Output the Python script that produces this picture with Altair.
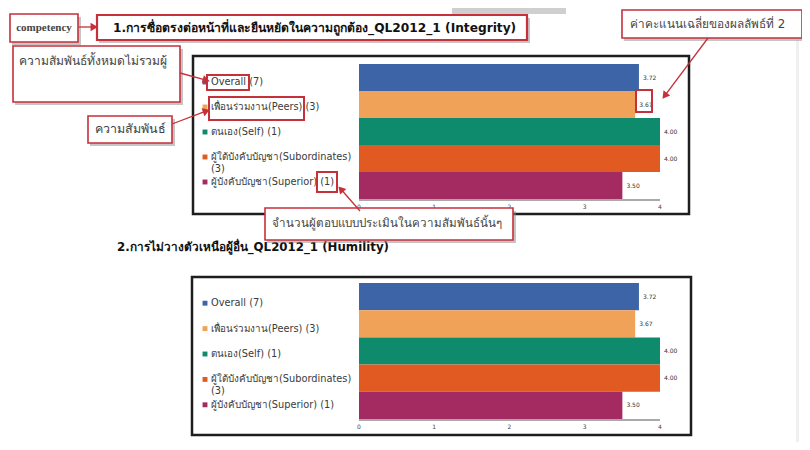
import math
import altair as alt
import pandas as pd

# ---------------- data ----------------
categories = ["Overall", "เพื่อนร่วมงาน(Peers)", "ตนเอง(Self)",
              "ผู้ใต้บังคับบัญชา(Subordinates)", "ผู้บังคับบัญชา(Superior)"]
counts = [7, 3, 1, 3, 1]
integrity_scores = [3.72, 3.67, 4.00, 4.00, 3.50]
humility_scores = [3.72, 3.67, 4.00, 4.00, 3.50]
axis_ticks = [0, 1, 2, 3, 4]
bar_colors = ["#3d64a6", "#f0a258", "#0e8a6c", "#e05a22", "#a42b62"]

title1 = "1.การซื่อตรงต่อหน้าที่และยืนหยัดในความถูกต้อง_QL2012_1 (Integrity)"
title2 = "2.การไม่วางตัวเหนือผู้อื่น_QL2012_1 (Humility)"
note_competency = "competency"
note_all = "ความสัมพันธ์ทั้งหมดไม่รวมผู้"
note_rel = "ความสัมพันธ์"
note_count = "จำนวนผู้ตอบแบบประเมินในความสัมพันธ์นั้นๆ"
note_score = "ค่าคะแนนเฉลี่ยของผลลัพธ์ที่ 2"

# ---------------- helpers ----------------
RED = "#c5303b"
SANS = "DejaVu Sans"
DUMMY = pd.DataFrame({"k": [0]})


def P(v):
    return v - 8


def rect(x1, y1, x2, y2, fill="white", stroke=None, sw=0, opacity=1.0):
    if fill is None:
        kw = dict(fill="white", fillOpacity=0)
    else:
        kw = dict(fill=fill, opacity=opacity)
    if stroke:
        kw.update(stroke=stroke, strokeWidth=sw)
    return [alt.Chart(DUMMY).mark_rect(**kw).encode(
        x=alt.value(P(x1)), x2=alt.value(P(x2)),
        y=alt.value(P(y1)), y2=alt.value(P(y2)))]


def label(x, y, text, size=12, weight="normal", color="#3a3a3a",
          font=SANS, align="left"):
    return [alt.Chart(DUMMY).mark_text(
        text=text, fontSize=size, fontWeight=weight, color=color, font=font,
        align=align, baseline="middle").encode(
        x=alt.value(P(x)), y=alt.value(P(y)))]


def arrow(x1, y1, x2, y2, color=RED, size=70):
    dx, dy = x2 - x1, y2 - y1
    d = math.hypot(dx, dy)
    ux, uy = dx / d, dy / d
    ang = math.degrees(math.atan2(dx, -dy)) % 360
    cx, cy = x2 - ux * 4, y2 - uy * 4
    line = alt.Chart(DUMMY).mark_rule(color=color, strokeWidth=1.3).encode(
        x=alt.value(P(x1)), y=alt.value(P(y1)),
        x2=alt.value(P(cx)), y2=alt.value(P(cy)))
    head = alt.Chart(DUMMY).mark_point(
        shape="triangle", filled=True, color=color, opacity=1,
        size=size, angle=round(ang, 1)).encode(x=alt.value(P(cx)), y=alt.value(P(cy)))
    return [line, head]


def note_box(x1, y1, x2, y2, sw=1.6):
    return (rect(x1 + 2, y1 + 3, x2 + 3, y2 + 3, fill="#8c8c8c", opacity=0.5)
            + rect(x1, y1, x2, y2, fill="white", stroke=RED, sw=sw))


def panel(scores, y_top, y_bot, leg_top, leg_bot, frame):
    df = pd.DataFrame({"cat": categories, "n": counts, "score": scores})
    df["legend"] = [f"{c}\n({n})" if len(f"{c} ({n})") > 30 else f"{c} ({n})"
                    for c, n in zip(categories, counts)]
    ticks = pd.DataFrame({"t": axis_ticks})
    xs = alt.Scale(domain=[0, 4], range=[P(359), P(660)], nice=False, zero=True)
    ys = alt.Scale(domain=categories, range=[P(y_top), P(y_bot)],
                   paddingInner=0, paddingOuter=0)
    ls = alt.Scale(domain=categories, range=[P(leg_top), P(leg_bot)],
                   paddingInner=0, paddingOuter=0)
    cs = alt.Scale(domain=categories, range=bar_colors)
    x = alt.X("score:Q", scale=xs, axis=None)
    y = alt.Y("cat:N", scale=ys, axis=None, sort=categories)
    yl = alt.Y("cat:N", scale=ls, axis=None, sort=categories)
    col = alt.Color("cat:N", scale=cs, legend=None)

    fx1, fy1, fx2, fy2 = frame
    layers = rect(fx1, fy1, fx2, fy2, fill=None, stroke="#1e1e1e", sw=2.5)

    base = alt.Chart(df)
    layers.append(base.mark_bar(opacity=1).encode(x=x, y=y, color=col))
    layers.append(base.mark_text(align="left", baseline="middle", dx=4, fontSize=6,
                                 font=SANS, color="#333").encode(
        x=x, y=y, text=alt.Text("score:Q", format=".2f")))
    layers.append(alt.Chart(ticks).transform_filter("datum.t == 0").mark_rule(
        color="#555", strokeWidth=1).encode(
        x=alt.X("t:Q", scale=xs, axis=None), x2=alt.datum(4),
        y=alt.value(P(y_bot + 1))))
    layers.append(alt.Chart(ticks).mark_text(fontSize=6, font=SANS,
                                             color="#444", baseline="middle").encode(
        x=alt.X("t:Q", scale=xs, axis=None),
        y=alt.value(P(y_bot + 8)), text="t:Q"))
    layers.append(base.mark_square(size=24, opacity=1).encode(
        x=alt.value(P(205)), y=yl, color=col))
    layers.append(base.mark_text(align="left", baseline="middle", fontSize=9.8,
                                 font=SANS, color="#3a3a3a", lineBreak="\n",
                                 lineHeight=12).encode(
        x=alt.value(P(211)), y=yl, text="legend:N"))
    return layers


# ---------------- background ----------------
layers = []
layers += rect(0, 0, 810, 450, fill="white")
layers += rect(452, 8, 566, 14, fill="#cfcfcf")
layers += rect(0, 200, 3, 450, fill="#e6e6e6")
layers += rect(796, 40, 799, 450, fill="#f0f0f0")

layers += panel(integrity_scores, 64, 199, 69.5, 194.5, (193, 56, 689, 214))
layers += panel(humility_scores, 283, 419, 290.5, 417.5, (192, 277, 691, 435))

layers += label(117, 247, title2, size=11.8, weight="bold", color="#111")

# competency + title box
layers += note_box(10, 14, 78, 42)
layers += label(44, 28, note_competency, size=11, weight="bold", color="#444",
                font="Liberation Serif", align="center")
layers += arrow(79, 27, 97, 27)
layers += note_box(97, 15, 527, 40, sw=2.2)
layers += label(113, 27.5, title1, size=12.2, weight="bold", color="#111")
# top right score note
layers += note_box(622, 10, 802, 38)
layers += label(630, 24, note_score, size=11.8, color="#444")
layers += arrow(708, 38, 663, 98)
# relationship notes
layers += note_box(13, 46, 180, 102)
layers += label(19, 61, note_all, size=12.1, color="#444")
layers += arrow(180, 73, 209, 81)
layers += note_box(88, 116, 172, 143)
layers += label(95, 129, note_rel, size=12.5, color="#444")
layers += arrow(172, 124, 209, 110)
# highlight frames in the chart
layers += rect(207, 75, 249, 90, fill=None, stroke=RED, sw=2)
layers += rect(209, 97, 304, 120, fill=None, stroke=RED, sw=2)
layers += rect(317, 172, 337, 192, fill=None, stroke=RED, sw=2)
layers += rect(636, 90, 652, 112, fill=None, stroke=RED, sw=2)
# respondents note
layers += note_box(265, 208, 513, 240)
layers += label(272, 224, note_count, size=11.6, color="#444")
layers += arrow(360, 211, 339, 187)

chart = alt.layer(*layers).resolve_scale(
    x="independent", y="independent", color="independent"
).properties(
    width=794, height=434, padding=0, autosize="none"
).configure_view(stroke=None).configure(background="white")

chart.save("out.html", embed_options={"renderer": "svg", "actions": False})
